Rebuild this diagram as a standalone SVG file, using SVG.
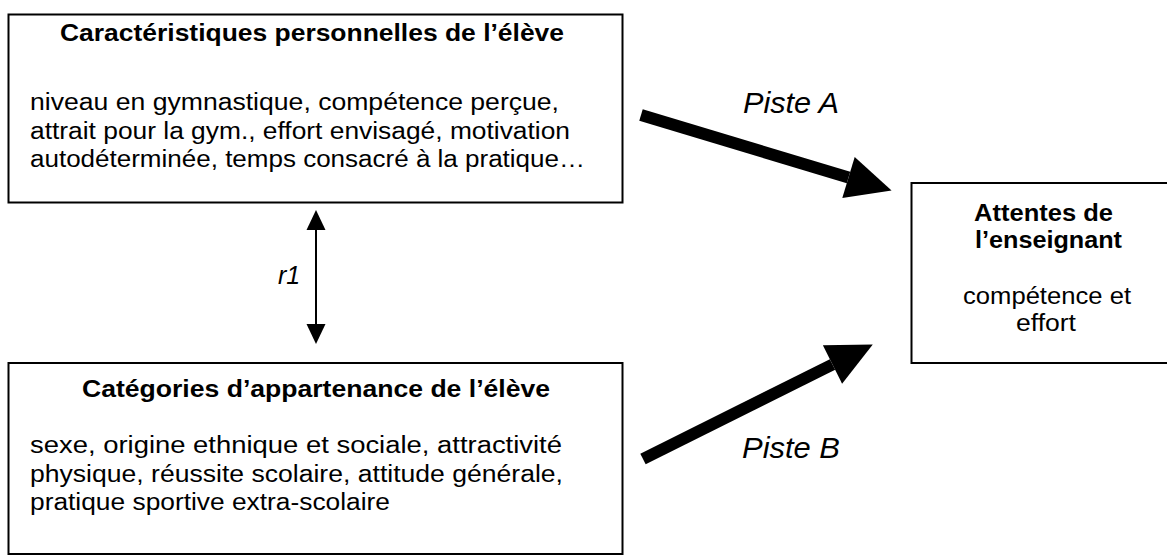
<svg xmlns="http://www.w3.org/2000/svg" width="1167" height="555" viewBox="0 0 1167 555">
  <style>
    .box { fill: #ffffff; stroke: #000000; stroke-width: 2; }
    .t { font-family: "Liberation Sans", Arial, sans-serif; font-size: 23px; fill: #000000; }
    .b { font-weight: bold; }
    .lbl { font-family: "Liberation Sans", Arial, sans-serif; font-style: italic; fill: #000000; }
    .thick { stroke: #000000; stroke-width: 12; fill: none; }
    .thin { stroke: #000000; stroke-width: 2; fill: none; }
  </style>
  <defs>
    <marker id="bigHead" markerUnits="userSpaceOnUse" markerWidth="46" markerHeight="44" refX="0" refY="21.5" orient="auto" overflow="visible">
      <path d="M0,0 L45,21.5 L0,43 Z" fill="#000000"/>
    </marker>
    <marker id="smallHead" markerUnits="userSpaceOnUse" markerWidth="21" markerHeight="20" refX="0" refY="9.5" orient="auto-start-reverse" overflow="visible">
      <path d="M0,0 L20,9.5 L0,19 Z" fill="#000000"/>
    </marker>
  </defs>
  <rect x="0" y="0" width="1167" height="555" fill="#ffffff"/>

  <g id="node-caracteristiques">
    <rect class="box" x="8.5" y="14.5" width="614" height="188"/>
    <text class="t b" x="60" y="41" textLength="504" lengthAdjust="spacingAndGlyphs">Caractéristiques personnelles de l’élève</text>
    <text class="t" x="30" y="110" textLength="529" lengthAdjust="spacingAndGlyphs">niveau en gymnastique, compétence perçue,</text>
    <text class="t" x="30" y="139" textLength="540" lengthAdjust="spacingAndGlyphs">attrait pour la gym., effort envisagé, motivation</text>
    <text class="t" x="30" y="167" textLength="555" lengthAdjust="spacingAndGlyphs">autodéterminée, temps consacré à la pratique…</text>
  </g>

  <g id="node-categories">
    <rect class="box" x="8.5" y="363" width="614" height="191"/>
    <text class="t b" x="82" y="397" textLength="468" lengthAdjust="spacingAndGlyphs">Catégories d’appartenance de l’élève</text>
    <text class="t" x="30" y="453" textLength="532" lengthAdjust="spacingAndGlyphs">sexe, origine ethnique et sociale, attractivité</text>
    <text class="t" x="30" y="482" textLength="533" lengthAdjust="spacingAndGlyphs">physique, réussite scolaire, attitude générale,</text>
    <text class="t" x="30" y="510" textLength="360" lengthAdjust="spacingAndGlyphs">pratique sportive extra-scolaire</text>
  </g>

  <g id="node-attentes">
    <rect class="box" x="911.5" y="183" width="300" height="180"/>
    <text class="t b" x="974" y="221" textLength="139" lengthAdjust="spacingAndGlyphs">Attentes de</text>
    <text class="t b" x="975" y="248" textLength="147" lengthAdjust="spacingAndGlyphs">l’enseignant</text>
    <text class="t" x="963" y="304" textLength="168" lengthAdjust="spacingAndGlyphs">compétence et</text>
    <text class="t" x="1016" y="331" textLength="60" lengthAdjust="spacingAndGlyphs">effort</text>
  </g>

  <g id="connectors">
    <line class="thick" x1="641" y1="115" x2="848.5" y2="177.5" marker-end="url(#bigHead)"/>
    <line class="thick" x1="643" y1="459" x2="832.5" y2="364.5" marker-end="url(#bigHead)"/>
    <line class="thin" x1="316" y1="230" x2="316" y2="324" marker-start="url(#smallHead)" marker-end="url(#smallHead)"/>
    <text class="lbl" x="743" y="113" font-size="29" textLength="96" lengthAdjust="spacingAndGlyphs">Piste A</text>
    <text class="lbl" x="742" y="458" font-size="29" textLength="98" lengthAdjust="spacingAndGlyphs">Piste B</text>
    <text class="lbl" x="278" y="284" font-size="25">r1</text>
  </g>
</svg>
